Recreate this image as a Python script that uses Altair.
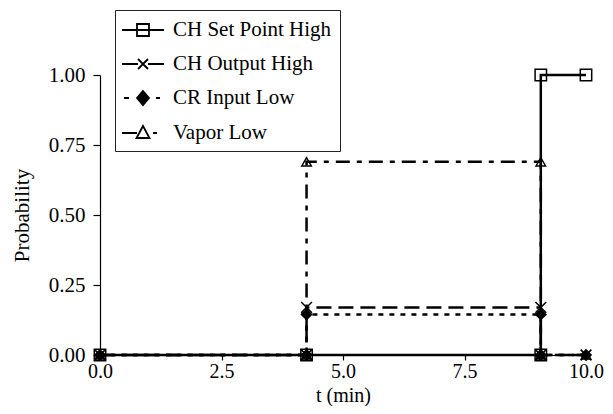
import altair as alt
import pandas as pd

# ---- data ----
series_names = ["CH Set Point High", "CH Output High", "CR Input Low", "Vapor Low"]

t_set_point = [0.0, 4.25, 9.07, 9.07, 10.0]
p_set_point = [0.0, 0.0, 0.0, 1.0, 1.0]

t_output = [0.0, 4.25, 4.25, 9.07, 9.07, 10.0]
p_output = [0.0, 0.0, 0.17, 0.17, 0.0, 0.0]

t_cr_input = [0.0, 4.25, 4.25, 9.07, 9.07, 10.0]
p_cr_input = [0.0, 0.0, 0.145, 0.145, 0.0, 0.0]

t_vapor = [0.0, 4.25, 4.25, 9.07, 9.07, 10.0]
p_vapor = [0.0, 0.0, 0.69, 0.69, 0.0, 0.0]

x_ticks = [0.0, 2.5, 5.0, 7.5, 10.0]
y_ticks = [0.0, 0.25, 0.5, 0.75, 1.0]

rows = []
for name, ts, ps in zip(series_names,
                        [t_set_point, t_output, t_cr_input, t_vapor],
                        [p_set_point, p_output, p_cr_input, p_vapor]):
    for i, (t, p) in enumerate(zip(ts, ps)):
        rows.append({"series": name, "t": t, "p": p, "idx": i})
df = pd.DataFrame(rows)

# ---- styles ----
dashes = [[1, 0], [15, 7], [5, 6], [14, 7, 5, 7]]
plot_shapes = ["square", "M-1,-1L1,1M-1,1L1,-1", "diamond", "triangle-up"]
plot_fills = ["transparent", "transparent", "black", "transparent"]
plot_sizes = [130, 90, 140, 170]

U = 11.0  # legend symbol unit in px (sqrt(484)/2)


def p(v):
    return f"{v / U:.3f}"


def seg(a, b):
    return f"M{p(a)},0H{p(b)}"


sq = f"M{p(-6)},{p(-6)}H{p(6)}V{p(6)}H{p(-6)}Z"
xx = f"M{p(-5)},{p(-5)}L{p(5)},{p(5)}M{p(-5)},{p(5)}L{p(5)},{p(-5)}"
dm = f"M0,{p(-7)}L{p(6)},0L0,{p(7)}L{p(-6)},0Z"
tr = f"M0,{p(-7)}L{p(6.5)},{p(5)}L{p(-6.5)},{p(5)}Z"
legend_shapes = [
    seg(-21, -6) + seg(-6, 6) + seg(6, 21) + sq,
    seg(-21, -5) + seg(5, 21) + xx,
    seg(-19, -14) + seg(13, 17) + dm,
    seg(-21, -6) + seg(10, 14) + tr,
]
legend_fills = ["white", "white", "black", "white"]

FONT = "Liberation Serif"

base = alt.Chart(df)

x_enc = alt.X("t:Q", title="t (min)",
              scale=alt.Scale(domain=[0, 10], nice=False, zero=False),
              axis=alt.Axis(values=x_ticks, format=".1f", labelFlush=False,
                            tickSize=5, labelPadding=1, labelFontSize=20,
                            titleFontSize=20,
                            titleY=46, titleBaseline="alphabetic"))
y_enc = alt.Y("p:Q", title="Probability",
              scale=alt.Scale(domain=[0, 1], nice=False),
              axis=alt.Axis(values=y_ticks, format=".2f", labelPadding=8,
                            tickSize=7, titlePadding=16))

lines = base.mark_line(color="black", strokeWidth=2.5).encode(
    x=x_enc, y=y_enc,
    detail="series:N",
    order="idx:Q",
    strokeDash=alt.StrokeDash("series:N",
                              scale=alt.Scale(domain=series_names, range=dashes),
                              legend=None),
)

points = base.mark_point(stroke="black", strokeWidth=1.5, opacity=1).encode(
    x=x_enc, y=y_enc,
    shape=alt.Shape("series:N",
                    scale=alt.Scale(domain=series_names, range=plot_shapes),
                    legend=None),
    fill=alt.Fill("series:N",
                  scale=alt.Scale(domain=series_names, range=plot_fills),
                  legend=None),
    size=alt.Size("series:N",
                  scale=alt.Scale(domain=series_names, range=plot_sizes),
                  legend=None),
)

leg = dict(title=None, orient="none", legendX=15, legendY=-65)

legend_layer = base.transform_filter("false").mark_point(
    strokeWidth=1.8, opacity=1
).encode(
    shape=alt.Shape("series:N",
                    scale=alt.Scale(domain=series_names, range=legend_shapes),
                    legend=alt.Legend(**leg)),
    fill=alt.Fill("series:N",
                  scale=alt.Scale(domain=series_names, range=legend_fills),
                  legend=alt.Legend(**leg)),
    stroke=alt.Stroke("series:N",
                      scale=alt.Scale(domain=series_names, range=["black"] * 4),
                      legend=alt.Legend(**leg)),
)

chart = alt.layer(lines, points, legend_layer).resolve_scale(
    shape="independent", fill="independent", stroke="independent"
).properties(
    width=486, height=280,
    autosize=alt.AutoSizeParams(type="none"),
    padding={"left": 92, "top": 67, "right": 19, "bottom": 51},
    background="white",
).configure_view(stroke=None).configure_axis(
    grid=False,
    domainColor="black", domainWidth=1.2,
    tickColor="black", tickWidth=1.2,
    labelFont=FONT, labelFontSize=21, labelColor="black",
    titleFont=FONT, titleFontSize=21, titleColor="black", titleFontWeight="normal",
).configure_legend(
    labelFont=FONT, labelFontSize=21, labelColor="black",
    symbolSize=484, symbolStrokeWidth=1.8, symbolStrokeColor="black",
    strokeColor="#222", fillColor="white", padding=8, cornerRadius=0,
    rowPadding=12, labelOffset=18, symbolOffset=8,
)

chart.save("out.html", embed_options={"renderer": "svg", "actions": False})
